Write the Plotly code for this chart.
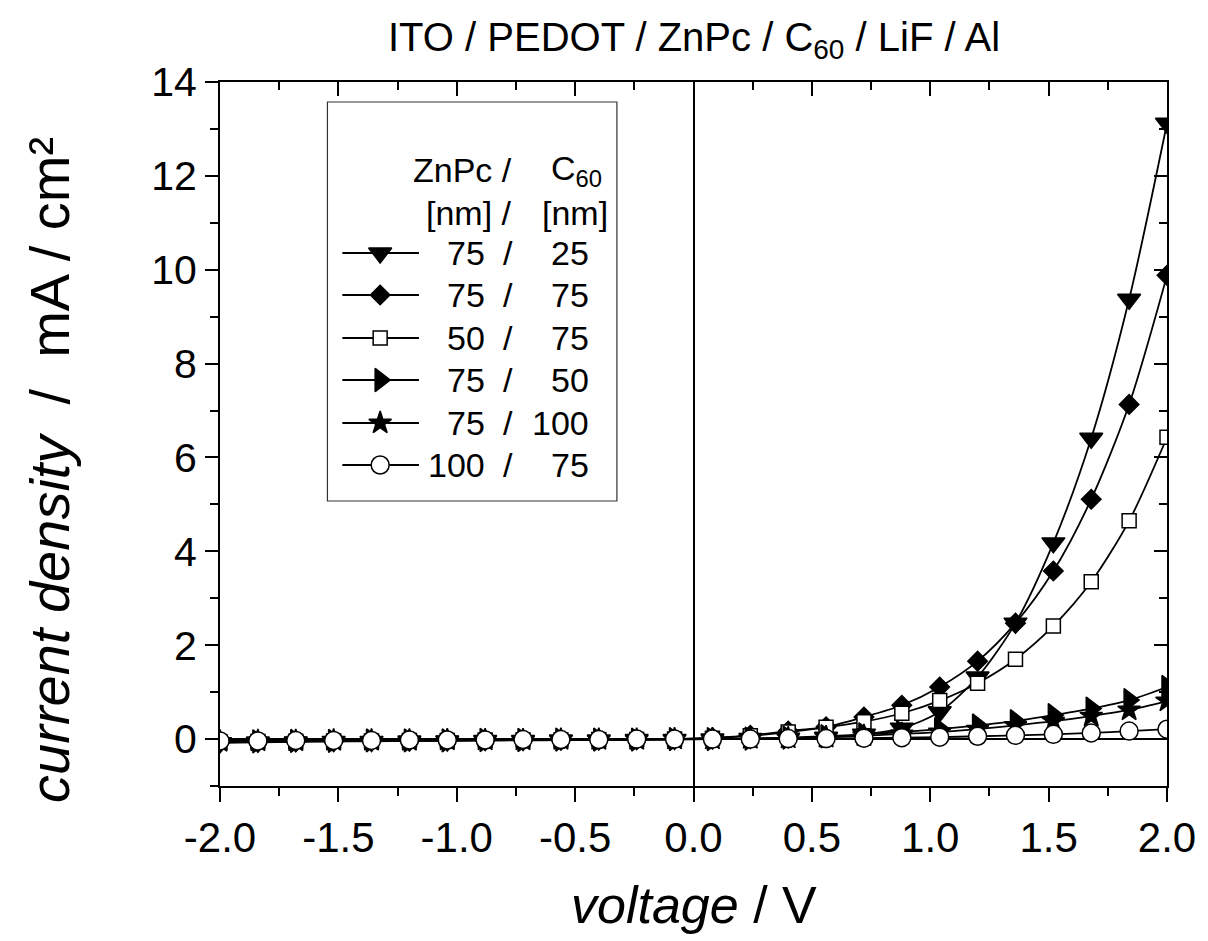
import plotly.graph_objects as go

# Bias voltage (V)
voltage = [-2.0, -1.84, -1.68, -1.52, -1.36, -1.2, -1.04, -0.88, -0.72, -0.56, -0.4, -0.24, -0.08,
           0.08, 0.24, 0.4, 0.56, 0.72, 0.88, 1.04, 1.2, 1.36, 1.52, 1.68, 1.84, 2.0]

# Current density (mA/cm^2) for each ZnPc / C60 thickness combination
j_75_25 = [-0.08, -0.07, -0.06, -0.05, -0.05, -0.04, -0.04, -0.03, -0.03, -0.02, -0.02, -0.01, -0.01,
           0.0, 0.01, 0.02, 0.04, 0.10, 0.23, 0.58, 1.32, 2.47, 4.18, 6.41, 9.37, 13.12]
j_75_75 = [-0.07, -0.06, -0.05, -0.05, -0.04, -0.04, -0.03, -0.03, -0.02, -0.02, -0.01, -0.01, 0.0,
           0.03, 0.08, 0.17, 0.26, 0.47, 0.72, 1.11, 1.66, 2.47, 3.58, 5.11, 7.13, 9.88]
j_50_75 = [-0.06, -0.05, -0.05, -0.04, -0.04, -0.03, -0.03, -0.02, -0.02, -0.02, -0.01, -0.01, 0.0,
           0.02, 0.07, 0.15, 0.25, 0.37, 0.55, 0.82, 1.19, 1.70, 2.41, 3.35, 4.65, 6.43]
j_75_50 = [-0.05, -0.05, -0.04, -0.04, -0.03, -0.03, -0.03, -0.02, -0.02, -0.01, -0.01, -0.01, 0.0,
           0.0, 0.01, 0.03, 0.06, 0.10, 0.15, 0.21, 0.29, 0.38, 0.51, 0.65, 0.83, 1.11]
j_75_100 = [-0.05, -0.04, -0.04, -0.03, -0.03, -0.03, -0.02, -0.02, -0.02, -0.01, -0.01, -0.01, 0.0,
            0.0, 0.01, 0.02, 0.04, 0.07, 0.11, 0.15, 0.21, 0.29, 0.38, 0.49, 0.62, 0.81]
j_100_75 = [-0.04, -0.04, -0.03, -0.03, -0.03, -0.02, -0.02, -0.02, -0.01, -0.01, -0.01, 0.0, 0.0,
            0.0, 0.0, 0.01, 0.01, 0.02, 0.03, 0.04, 0.06, 0.08, 0.10, 0.13, 0.17, 0.21]

series = [j_75_25, j_75_75, j_50_75, j_75_50, j_75_100, j_100_75]
znpc_nm = ["75", "75", "50", "75", "75", "100"]
c60_nm = ["25", "75", "75", "50", "100", "75"]

x_tickvals = [-2.0, -1.5, -1.0, -0.5, 0.0, 0.5, 1.0, 1.5, 2.0]
x_ticktext = ["-2.0", "-1.5", "-1.0", "-0.5", "0.0", "0.5", "1.0", "1.5", "2.0"]
y_tickvals = [0, 2, 4, 6, 8, 10, 12, 14]

# marker style per series: (symbol, size, fill)
styles = [
    ("triangle-down", 20, "black"),
    ("diamond", 15, "black"),
    ("square", 14, "white"),
    ("triangle-right", 20, "black"),
    ("star", 17, "black"),
    ("circle", 18, "white"),
]

FONT = "Liberation Sans, Arial, sans-serif"
W, H = 1208, 941
L, R, T, B = 220, 36, 82, 155

def px(x):
    return (x - L) / (W - L - R)

def py(y):
    return (H - B - y) / (H - T - B)

fig = go.Figure()

for vals, (sym, size, fill) in zip(series, styles):
    fig.add_trace(go.Scatter(
        x=voltage, y=vals, mode="lines+markers",
        line=dict(color="black", width=1.8, shape="spline", smoothing=0.8),
        marker=dict(symbol=sym, size=size, color=fill,
                    line=dict(color="black", width=1.5)),
        showlegend=False, cliponaxis=True,
    ))

# legend samples drawn on an overlay axis spanning the plot area in fractions
row_y = [253, 295, 338, 380, 423, 465]
for k, (sym, size, fill) in enumerate(styles):
    yy = py(row_y[k])
    fig.add_trace(go.Scatter(
        x=[px(343), px(420)], y=[yy, yy], mode="lines",
        line=dict(color="black", width=1.8),
        xaxis="x2", yaxis="y2", showlegend=False, hoverinfo="skip",
    ))
    fig.add_trace(go.Scatter(
        x=[px(381)], y=[yy], mode="markers",
        marker=dict(symbol=sym, size=size, color=fill,
                    line=dict(color="black", width=1.5)),
        xaxis="x2", yaxis="y2", showlegend=False, hoverinfo="skip",
    ))

# carrier for the mirrored top/right axes
fig.add_trace(go.Scatter(x=[None], y=[None], xaxis="x3", yaxis="y3",
                         showlegend=False, hoverinfo="skip"))

axis_common = dict(showgrid=False, linecolor="black", linewidth=2,
                   tickcolor="black", tickwidth=2)

fig.update_layout(
    width=W, height=H,
    margin=dict(l=L, r=R, t=T, b=B),
    paper_bgcolor="white", plot_bgcolor="white",
    font=dict(family=FONT, color="black"),
    xaxis=dict(range=[-2.0, 2.0], tickmode="array", tickvals=x_tickvals, ticktext=x_ticktext,
               ticks="outside", ticklen=14, tickfont=dict(size=42, family=FONT),
               showline=True, zeroline=True, zerolinecolor="black", zerolinewidth=2,
               minor=dict(tickmode="linear", tick0=-2.0, dtick=0.25, ticks="outside",
                          ticklen=8, tickwidth=2, tickcolor="black"),
               **axis_common),
    yaxis=dict(range=[-1, 14], tickmode="array", tickvals=y_tickvals,
               ticks="outside", ticklen=13, tickfont=dict(size=41, family=FONT),
               showline=True, zeroline=True, zerolinecolor="black", zerolinewidth=2,
               minor=dict(tickmode="linear", tick0=-1, dtick=1, ticks="outside",
                          ticklen=8, tickwidth=2, tickcolor="black"),
               **axis_common),
    xaxis2=dict(range=[0, 1], overlaying="x", visible=False, fixedrange=True),
    yaxis2=dict(range=[0, 1], overlaying="y", visible=False, fixedrange=True),
    xaxis3=dict(range=[-2.0, 2.0], overlaying="x", side="top", tickmode="array",
                tickvals=x_tickvals, ticks="inside", ticklen=14, showticklabels=False,
                showline=True, zeroline=False,
                minor=dict(tickmode="linear", tick0=-2.0, dtick=0.25, ticks="inside",
                           ticklen=8, tickwidth=2, tickcolor="black"),
                **axis_common),
    yaxis3=dict(range=[-1, 14], overlaying="y", side="right", tickmode="array",
                tickvals=y_tickvals, ticks="inside", ticklen=13, showticklabels=False,
                showline=True, zeroline=False,
                minor=dict(tickmode="linear", tick0=-1, dtick=1, ticks="inside",
                           ticklen=8, tickwidth=2, tickcolor="black"),
                **axis_common),
)

# legend frame
fig.add_shape(type="rect", xref="paper", yref="paper",
              x0=px(328), x1=px(619), y0=py(501), y1=py(102),
              line=dict(color="#333333", width=1.2), fillcolor="rgba(0,0,0,0)")

ann = []
LEG = 34
ann.append(dict(x=px(516), y=py(170), text="ZnPc /", xanchor="right", yanchor="middle",
                font=dict(size=LEG)))
ann.append(dict(x=px(551), y=py(170), text="C<sub>60</sub>", xanchor="left", yanchor="middle",
                font=dict(size=LEG)))
ann.append(dict(x=px(516), y=py(213), text="[nm] /", xanchor="right", yanchor="middle",
                font=dict(size=LEG)))
ann.append(dict(x=px(542), y=py(213), text="[nm]", xanchor="left", yanchor="middle",
                font=dict(size=LEG)))
for k in range(len(series)):
    yy = py(row_y[k])
    ann.append(dict(x=px(488), y=yy, text=znpc_nm[k], xanchor="right", yanchor="middle",
                    font=dict(size=LEG)))
    ann.append(dict(x=px(510), y=yy, text="/", xanchor="center", yanchor="middle",
                    font=dict(size=LEG)))
    ann.append(dict(x=px(593), y=yy, text=c60_nm[k], xanchor="right", yanchor="middle",
                    font=dict(size=LEG)))

# title and axis titles
ann.append(dict(x=px(696), y=py(40), text="ITO / PEDOT / ZnPc / C<sub>60</sub> / LiF / Al",
                xanchor="center", yanchor="middle", font=dict(size=40)))
ann.append(dict(x=px(696), y=py(905), text="<i>voltage</i> / V",
                xanchor="center", yanchor="middle", font=dict(size=52)))
ann.append(dict(x=px(48), y=py(470), text="<i>current density</i>  /  mA / cm²",
                xanchor="center", yanchor="middle", textangle=-90, font=dict(size=56)))

for a in ann:
    a.update(xref="paper", yref="paper", showarrow=False)
    a["font"].update(family=FONT, color="black")
fig.update_layout(annotations=ann)

fig.write_html("out.html")
